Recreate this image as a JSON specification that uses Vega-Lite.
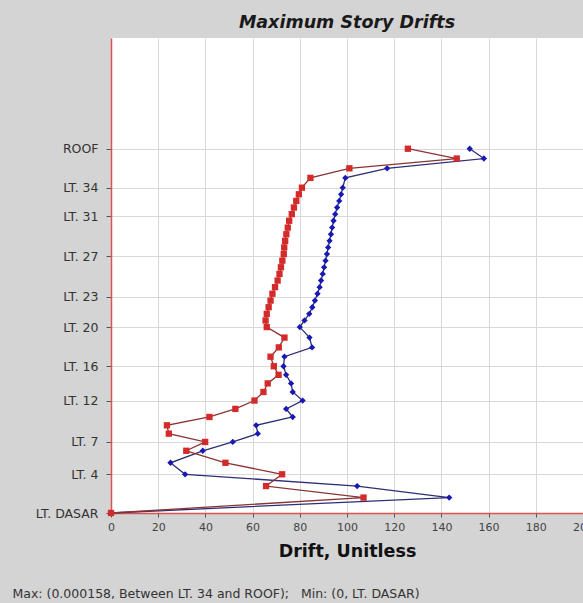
{
  "$schema": "https://vega.github.io/schema/vega-lite/v6.json",
  "autosize": {"type": "none"},
  "width": 472,
  "height": 475,
  "padding": {"left": 111, "top": 38, "right": 0, "bottom": 90},
  "background": "#d4d4d4",
  "title": {
    "text": "Maximum Story Drifts",
    "font": "DejaVu Sans",
    "fontSize": 17.5,
    "fontWeight": "bold",
    "fontStyle": "italic",
    "color": "#1a1a1a",
    "anchor": "middle",
    "frame": "group",
    "offset": 7
  },
  "config": {
    "view": {"stroke": null, "fill": "white"}
  },
  "data": {
    "values": [
      {"dir": "Y", "elev": 0, "drift": 0},
      {"dir": "Y", "elev": 6.3, "drift": 143.3},
      {"dir": "Y", "elev": 11.0, "drift": 104.3},
      {"dir": "Y", "elev": 15.8, "drift": 31.4},
      {"dir": "Y", "elev": 20.5, "drift": 25.2},
      {"dir": "Y", "elev": 25.4, "drift": 38.9},
      {"dir": "Y", "elev": 29.0, "drift": 51.6},
      {"dir": "Y", "elev": 32.4, "drift": 62.2},
      {"dir": "Y", "elev": 35.8, "drift": 61.5},
      {"dir": "Y", "elev": 39.2, "drift": 77.0},
      {"dir": "Y", "elev": 42.5, "drift": 74.2},
      {"dir": "Y", "elev": 45.9, "drift": 81.2},
      {"dir": "Y", "elev": 49.4, "drift": 77.0},
      {"dir": "Y", "elev": 52.9, "drift": 76.3},
      {"dir": "Y", "elev": 56.4, "drift": 74.2},
      {"dir": "Y", "elev": 59.9, "drift": 73.1},
      {"dir": "Y", "elev": 63.8, "drift": 73.5},
      {"dir": "Y", "elev": 67.6, "drift": 85.2},
      {"dir": "Y", "elev": 71.6, "drift": 84.1},
      {"dir": "Y", "elev": 75.9, "drift": 80.0},
      {"dir": "Y", "elev": 78.6, "drift": 82.0},
      {"dir": "Y", "elev": 81.3, "drift": 84.0},
      {"dir": "Y", "elev": 84.0, "drift": 85.3},
      {"dir": "Y", "elev": 86.7, "drift": 86.4},
      {"dir": "Y", "elev": 89.5, "drift": 87.5},
      {"dir": "Y", "elev": 92.2, "drift": 88.4},
      {"dir": "Y", "elev": 94.9, "drift": 89.0},
      {"dir": "Y", "elev": 97.6, "drift": 89.7},
      {"dir": "Y", "elev": 100.3, "drift": 90.3},
      {"dir": "Y", "elev": 103.0, "drift": 90.9},
      {"dir": "Y", "elev": 105.7, "drift": 91.5},
      {"dir": "Y", "elev": 108.4, "drift": 92.0},
      {"dir": "Y", "elev": 111.1, "drift": 92.6},
      {"dir": "Y", "elev": 113.8, "drift": 93.2},
      {"dir": "Y", "elev": 116.5, "drift": 93.7},
      {"dir": "Y", "elev": 119.3, "drift": 94.3},
      {"dir": "Y", "elev": 122.0, "drift": 95.0},
      {"dir": "Y", "elev": 124.7, "drift": 95.8},
      {"dir": "Y", "elev": 127.4, "drift": 96.7},
      {"dir": "Y", "elev": 130.1, "drift": 97.5},
      {"dir": "Y", "elev": 132.8, "drift": 98.2},
      {"dir": "Y", "elev": 136.8, "drift": 99.3},
      {"dir": "Y", "elev": 140.7, "drift": 117.0},
      {"dir": "Y", "elev": 144.7, "drift": 158.0},
      {"dir": "Y", "elev": 148.7, "drift": 152.0},
      {"dir": "X", "elev": 0, "drift": 0},
      {"dir": "X", "elev": 6.3, "drift": 107.0},
      {"dir": "X", "elev": 11.0, "drift": 65.7},
      {"dir": "X", "elev": 15.8, "drift": 72.5},
      {"dir": "X", "elev": 20.5, "drift": 48.5},
      {"dir": "X", "elev": 25.4, "drift": 31.9},
      {"dir": "X", "elev": 29.0, "drift": 39.9},
      {"dir": "X", "elev": 32.4, "drift": 24.5},
      {"dir": "X", "elev": 35.8, "drift": 23.7},
      {"dir": "X", "elev": 39.2, "drift": 41.7},
      {"dir": "X", "elev": 42.5, "drift": 52.7},
      {"dir": "X", "elev": 45.9, "drift": 60.8},
      {"dir": "X", "elev": 49.4, "drift": 64.6},
      {"dir": "X", "elev": 52.9, "drift": 66.4},
      {"dir": "X", "elev": 56.4, "drift": 71.0},
      {"dir": "X", "elev": 59.9, "drift": 69.0},
      {"dir": "X", "elev": 63.8, "drift": 67.6},
      {"dir": "X", "elev": 67.6, "drift": 71.1},
      {"dir": "X", "elev": 71.6, "drift": 73.5},
      {"dir": "X", "elev": 75.9, "drift": 66.0},
      {"dir": "X", "elev": 78.6, "drift": 65.5},
      {"dir": "X", "elev": 81.3, "drift": 66.0},
      {"dir": "X", "elev": 84.0, "drift": 66.8},
      {"dir": "X", "elev": 86.7, "drift": 67.6},
      {"dir": "X", "elev": 89.5, "drift": 68.4},
      {"dir": "X", "elev": 92.2, "drift": 69.5},
      {"dir": "X", "elev": 94.9, "drift": 70.6},
      {"dir": "X", "elev": 97.6, "drift": 71.4},
      {"dir": "X", "elev": 100.3, "drift": 72.0},
      {"dir": "X", "elev": 103.0, "drift": 72.6},
      {"dir": "X", "elev": 105.7, "drift": 73.2},
      {"dir": "X", "elev": 108.4, "drift": 73.4},
      {"dir": "X", "elev": 111.1, "drift": 73.8},
      {"dir": "X", "elev": 113.8, "drift": 74.3},
      {"dir": "X", "elev": 116.5, "drift": 74.9},
      {"dir": "X", "elev": 119.3, "drift": 75.5},
      {"dir": "X", "elev": 122.0, "drift": 76.6},
      {"dir": "X", "elev": 124.7, "drift": 77.5},
      {"dir": "X", "elev": 127.4, "drift": 78.5},
      {"dir": "X", "elev": 130.1, "drift": 79.6},
      {"dir": "X", "elev": 132.8, "drift": 80.9},
      {"dir": "X", "elev": 136.8, "drift": 84.5},
      {"dir": "X", "elev": 140.7, "drift": 101.0},
      {"dir": "X", "elev": 144.7, "drift": 146.5},
      {"dir": "X", "elev": 148.7, "drift": 125.8}
    ]
  },
  "layer": [
    {
      "mark": {"type": "line", "strokeWidth": 1.3},
      "encoding": {
        "x": {
          "field": "drift",
          "type": "quantitative",
          "scale": {"domain": [0, 200], "nice": false, "zero": false},
          "axis": {
            "orient": "bottom",
            "title": "Drift, Unitless",
            "values": [0, 20, 40, 60, 80, 100, 120, 140, 160, 180, 200],
            "grid": true,
            "gridColor": "#d9d9d9",
            "domainColor": "#d9534f",
            "domainWidth": 1.5,
            "tickColor": "#555555",
            "tickSize": 4,
            "labelFont": "DejaVu Sans",
            "labelFontSize": 11,
            "labelColor": "#444444",
            "labelPadding": 4,
            "labelFlush": false,
            "labelOverlap": false,
            "labelBound": false,
            "titleFont": "DejaVu Sans",
            "titleFontSize": 17.5,
            "titleFontWeight": "bold",
            "titleColor": "#111111",
            "titlePadding": 10
          }
        },
        "y": {
          "field": "elev",
          "type": "quantitative",
          "scale": {"domain": [0, 193.9], "nice": false, "zero": false},
          "axis": {
            "title": null,
            "values": [0, 15.8, 29.0, 45.9, 59.9, 75.9, 88.2, 104.8, 121.1, 132.8, 148.7],
            "labelExpr": "datum.value == 0 ? 'LT. DASAR' : datum.value == 15.8 ? 'LT. 4' : datum.value == 29 ? 'LT. 7' : datum.value == 45.9 ? 'LT. 12' : datum.value == 59.9 ? 'LT. 16' : datum.value == 75.9 ? 'LT. 20' : datum.value == 88.2 ? 'LT. 23' : datum.value == 104.8 ? 'LT. 27' : datum.value == 121.1 ? 'LT. 31' : datum.value == 132.8 ? 'LT. 34' : 'ROOF'",
            "grid": true,
            "gridColor": "#d9d9d9",
            "domainColor": "#d9534f",
            "domainWidth": 1.5,
            "tickColor": "#555555",
            "tickSize": 5,
            "labelPadding": 8,
            "labelFont": "DejaVu Sans",
            "labelFontSize": 12.5,
            "labelColor": "#333333",
            "labelOverlap": false
          }
        },
        "detail": {"field": "dir"},
        "order": {"field": "elev", "type": "quantitative"},
        "stroke": {
          "field": "dir",
          "type": "nominal",
          "scale": {"domain": ["X", "Y"], "range": ["#8a3434", "#2e2e78"]},
          "legend": null
        }
      }
    },
    {
      "mark": {"type": "point", "filled": true, "size": 40, "opacity": 1, "strokeWidth": 0},
      "encoding": {
        "x": {
          "field": "drift",
          "type": "quantitative",
          "scale": {"domain": [0, 200], "nice": false, "zero": false},
          "axis": {
            "orient": "bottom",
            "labels": false,
            "ticks": false,
            "domain": false,
            "grid": false,
            "title": "Max: (0.000158, Between LT. 34 and ROOF);\u00a0\u00a0\u00a0Min: (0, LT. DASAR)",
            "titleFont": "DejaVu Sans",
            "titleFontSize": 12.5,
            "titleFontWeight": "normal",
            "titleColor": "#333333",
            "titleAlign": "left",
            "titleBaseline": "middle",
            "titleX": -99,
            "titleY": 80
          }
        },
        "y": {
          "field": "elev",
          "type": "quantitative",
          "scale": {"domain": [0, 193.9], "nice": false, "zero": false}
        },
        "fill": {
          "field": "dir",
          "type": "nominal",
          "scale": {"domain": ["X", "Y"], "range": ["#d42a2a", "#1818b4"]},
          "legend": null
        },
        "shape": {
          "field": "dir",
          "type": "nominal",
          "scale": {"domain": ["X", "Y"], "range": ["square", "diamond"]},
          "legend": null
        }
      }
    }
  ],
  "resolve": {"scale": {"x": "independent"}}
}
